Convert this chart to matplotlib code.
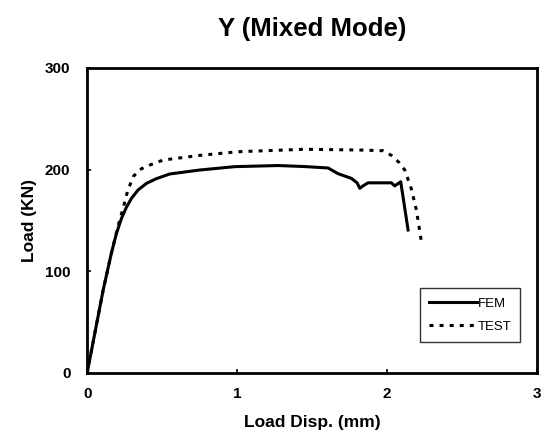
import matplotlib
matplotlib.use("Agg")
import matplotlib.pyplot as plt

fem_x = [0.0, 0.107, 0.162, 0.195, 0.229, 0.262, 0.296, 0.34, 0.396, 0.46, 0.551, 0.751, 0.984, 1.273, 1.45, 1.607, 1.673, 1.762, 1.80, 1.818, 1.84, 1.873, 2.029, 2.051, 2.091, 2.115, 2.14]
fem_y = [0, 81.6, 118, 137, 152, 163, 171.8, 180, 186.5, 191, 195.7, 199.6, 202.9, 204, 203, 201.6, 196, 191.4, 187, 181.6, 184, 187, 187, 184, 188, 165, 140.6]

test_x = [0.0, 0.107, 0.162, 0.207, 0.24, 0.27, 0.307, 0.35, 0.418, 0.507, 0.751, 1.007, 1.45, 1.807, 1.973, 2.029, 2.08, 2.118, 2.162, 2.196, 2.229]
test_y = [0, 81.6, 118, 145, 162, 179, 193, 200, 204.5, 209.4, 214, 217.6, 220, 219.3, 218.6, 214, 207, 199.6, 181, 160, 129]

x_ticks = [0, 1, 2, 3]
y_ticks = [0, 100, 200, 300]

plt.rcParams['font.family'] = ['Liberation Sans', 'DejaVu Sans']

fig = plt.figure(figsize=(5.48, 4.44), dpi=100)
ax = fig.add_axes([0.159, 0.16, 0.821, 0.687])
ax.plot(fem_x, fem_y, color='black', lw=2.2, label='FEM')
ax.plot(test_x, test_y, color='black', lw=2.2, linestyle=(0, (1.3, 2.0)), label='TEST')
ax.set_xlim(0, 3)
ax.set_ylim(0, 300)
ax.set_xticks(x_ticks)
ax.set_yticks(y_ticks)
ax.tick_params(direction='in', length=3, width=1.2, labelsize=11)
ax.tick_params(axis='x', pad=10)
ax.tick_params(axis='y', pad=12)
for lbl in ax.get_xticklabels() + ax.get_yticklabels():
    lbl.set_fontweight('bold')
for s in ax.spines.values():
    s.set_linewidth(2)
ax.set_xlabel('Load Disp. (mm)', fontsize=12.5, fontweight='bold', labelpad=10)
ax.set_ylabel('Load (KN)', fontsize=12.5, fontweight='bold', labelpad=6)
fig.text(0.57, 0.935, 'Y (Mixed Mode)', fontsize=18.5, fontweight='bold', ha='center', va='center')
leg = ax.legend(loc='lower right', bbox_to_anchor=(0.963, 0.102), fontsize=9.5, frameon=True,
                fancybox=False, edgecolor='black', handlelength=3.6, handletextpad=0.05,
                borderpad=0.7, labelspacing=0.8, borderaxespad=0)
leg.get_frame().set_linewidth(1.0)
fig.savefig('out.png', dpi=100, facecolor='white')
